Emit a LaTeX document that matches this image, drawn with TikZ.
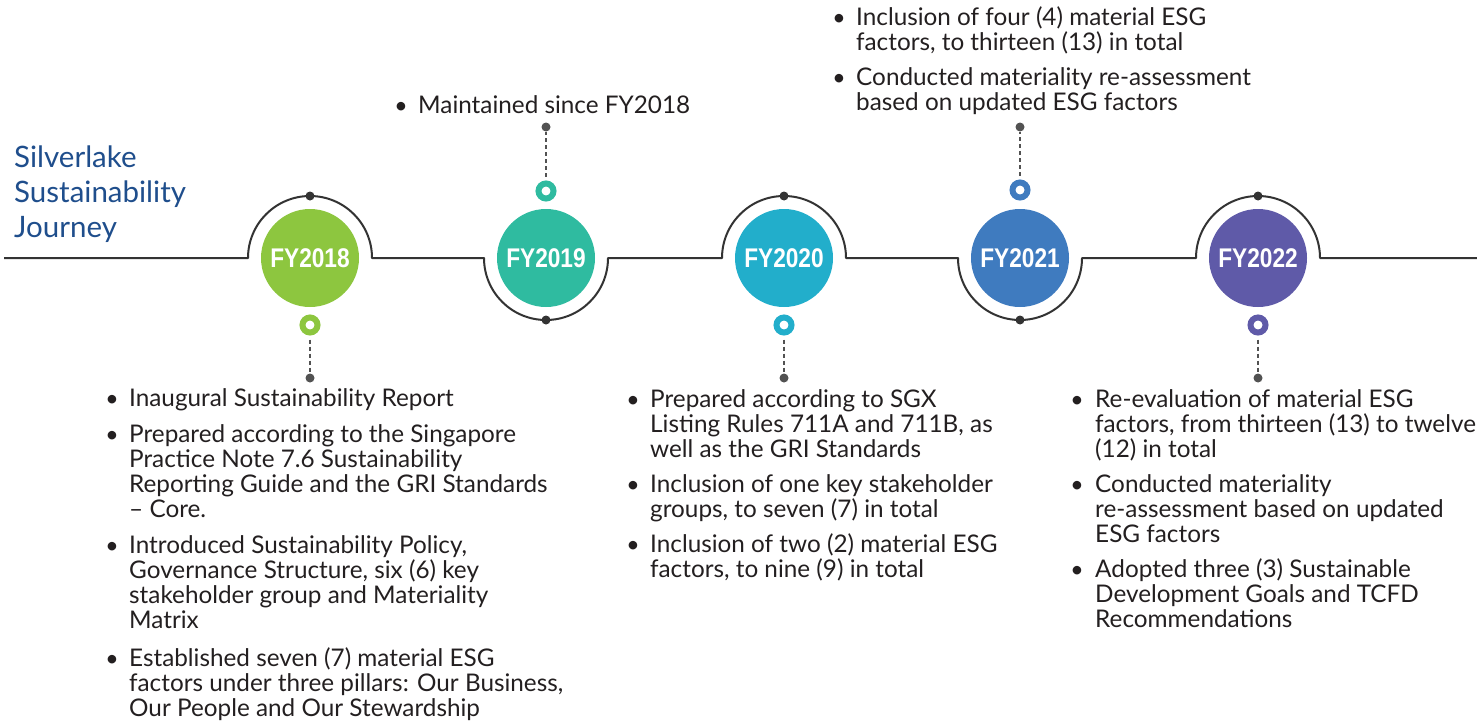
\documentclass[tikz,border=0pt]{standalone}
\usepackage{fontspec}
\setmainfont{Lato}
\newfontfamily\labelfont{Liberation Sans}[FakeStretch=0.84]
\definecolor{txtc}{HTML}{231F20}
\definecolor{ttlc}{HTML}{1F4E8C}
\definecolor{linec}{HTML}{333333}
\definecolor{cA}{HTML}{8DC63F}
\definecolor{cB}{HTML}{2FBBA0}
\definecolor{cC}{HTML}{22AECB}
\definecolor{cD}{HTML}{3F7BBF}
\definecolor{cE}{HTML}{5F5AA8}
\newcounter{tlc}
\newcommand\tline[3]{\stepcounter{tlc}\node[txt] (tl\arabic{tlc}) at (#1,-#2) {#3};}
\newcommand\tbul[2]{\stepcounter{tlc}\node[bul] (bu\arabic{tlc}) at (#1,-#2) {•};}
\tikzset{
  txt/.style={anchor=base west, inner sep=0pt, font=\fontsize{24.3}{25}\selectfont, text=txtc},
  bul/.style={anchor=base, inner sep=0pt, font=\fontsize{23}{25}\selectfont, text=txtc},
  ttl/.style={anchor=base west, inner sep=0pt, font=\fontsize{29.5}{34}\selectfont, text=ttlc},
  yearc/.style={circle, fill=#1, minimum size=98pt, inner sep=0pt, text=white,
     font=\labelfont\bfseries\fontsize{27}{30}\selectfont},
  ringm/.style={circle, fill=white, draw=#1, line width=6pt, minimum size=15pt, inner sep=0pt},
  dotm/.style={circle, fill=linec, minimum size=9pt, inner sep=0pt},
  dotl/.style={circle, fill=linec!85, minimum size=9pt, inner sep=0pt},
  tl/.style={draw=linec, line width=2pt, line join=round},
  dsh/.style={draw=linec!85, line width=1.6pt, dash pattern=on 4pt off 3pt},
}
\begin{document}
\begin{tikzpicture}[x=1pt,y=1pt]
\useasboundingbox (0,0) rectangle (1477,-723);
% main timeline
\coordinate (s0) at (4,-258);
\coordinate (e0) at (1477,-258);
\draw[tl] (s0) -- (248,-258) arc[start angle=180,end angle=0,radius=62]
  -- (484,-258) arc[start angle=180,end angle=360,radius=62]
  -- (722,-258) arc[start angle=180,end angle=0,radius=62]
  -- (958,-258) arc[start angle=180,end angle=360,radius=62]
  -- (1196,-258) arc[start angle=180,end angle=0,radius=62]
  -- (e0);
% arc dots
\node[dotm] (a18) at (310,-196) {};
\node[dotm] (a19) at (546,-320) {};
\node[dotm] (a20) at (784,-196) {};
\node[dotm] (a21) at (1020,-320) {};
\node[dotm] (a22) at (1258,-196) {};
% year circles
\node[yearc=cA] (y18) at (310,-258) {FY2018};
\node[yearc=cB] (y19) at (546,-258) {FY2019};
\node[yearc=cC] (y20) at (784,-258) {FY2020};
\node[yearc=cD] (y21) at (1020,-258) {FY2021};
\node[yearc=cE] (y22) at (1258,-258) {FY2022};
% rings
\node[ringm=cA] (r18) at (310,-325) {};
\node[ringm=cB] (r19) at (546,-191) {};
\node[ringm=cC] (r20) at (784,-325) {};
\node[ringm=cD] (r21) at (1020,-190) {};
\node[ringm=cE] (r22) at (1258,-325) {};
% end dots
\node[dotl] (d18) at (310,-378) {};
\node[dotl] (d19) at (546,-127) {};
\node[dotl] (d20) at (784,-378) {};
\node[dotl] (d21) at (1020,-127) {};
\node[dotl] (d22) at (1258,-378) {};
\draw[dsh] ([yshift=-4pt]r18.south) -- (d18);
\draw[dsh] ([yshift=4pt]r19.north) -- (d19);
\draw[dsh] ([yshift=-4pt]r20.south) -- (d20);
\draw[dsh] ([yshift=4pt]r21.north) -- (d21);
\draw[dsh] ([yshift=-4pt]r22.south) -- (d22);
% title
\node[ttl] (t1) at (14,-167.5) {Silverlake};
\node[ttl] (t2) at (14,-202.5) {Sustainability};
\node[ttl] (t3) at (14,-237) {Journey};
% FY2018 text
\tbul{112}{406}\tline{129}{406}{Inaugural Sustainability Report}
\tbul{112}{442}\tline{129}{442}{Prepared according to the Singapore}
\tline{129}{467}{Practice Note 7.6 Sustainability}
\tline{129}{492}{Reporting Guide and the GRI Standards}
\tline{129}{517}{– Core.}
\tbul{112}{553}\tline{129}{553}{Introduced Sustainability Policy,}
\tline{129}{578}{Governance Structure, six (6) key}
\tline{129}{603}{stakeholder group and Materiality}
\tline{129}{628}{Matrix}
\tbul{112}{666}\tline{129}{666}{Established seven (7) material ESG}
\tline{129}{691}{factors under three pillars: Our Business,}
\tline{129}{716}{Our People and Our Stewardship}
% FY2019 text
\tbul{401}{113}\tline{418}{113}{Maintained since FY2018}
% FY2020 text
\tbul{633}{407}\tline{650}{407}{Prepared according to SGX}
\tline{650}{432}{Listing Rules 711A and 711B, as}
\tline{650}{457}{well as the GRI Standards}
\tbul{633}{492}\tline{650}{492}{Inclusion of one key stakeholder}
\tline{650}{517}{groups, to seven (7) in total}
\tbul{633}{552}\tline{650}{552}{Inclusion of two (2) material ESG}
\tline{650}{577}{factors, to nine (9) in total}
% FY2021 text
\tbul{839}{25}\tline{856}{25}{Inclusion of four (4) material ESG}
\tline{856}{50}{factors, to thirteen (13) in total}
\tbul{839}{85}\tline{856}{85}{Conducted materiality re-assessment}
\tline{856}{110}{based on updated ESG factors}
% FY2022 text
\tbul{1077}{407}\tline{1095}{407}{Re-evaluation of material ESG}
\tline{1095}{432}{factors, from thirteen (13) to twelve}
\tline{1095}{457}{(12) in total}
\tbul{1077}{492}\tline{1095}{492}{Conducted materiality}
\tline{1095}{517}{re-assessment based on updated}
\tline{1095}{542}{ESG factors}
\tbul{1077}{577}\tline{1095}{577}{Adopted three (3) Sustainable}
\tline{1095}{602}{Development Goals and TCFD}
\tline{1095}{627}{Recommendations}
\end{tikzpicture}
\end{document}
